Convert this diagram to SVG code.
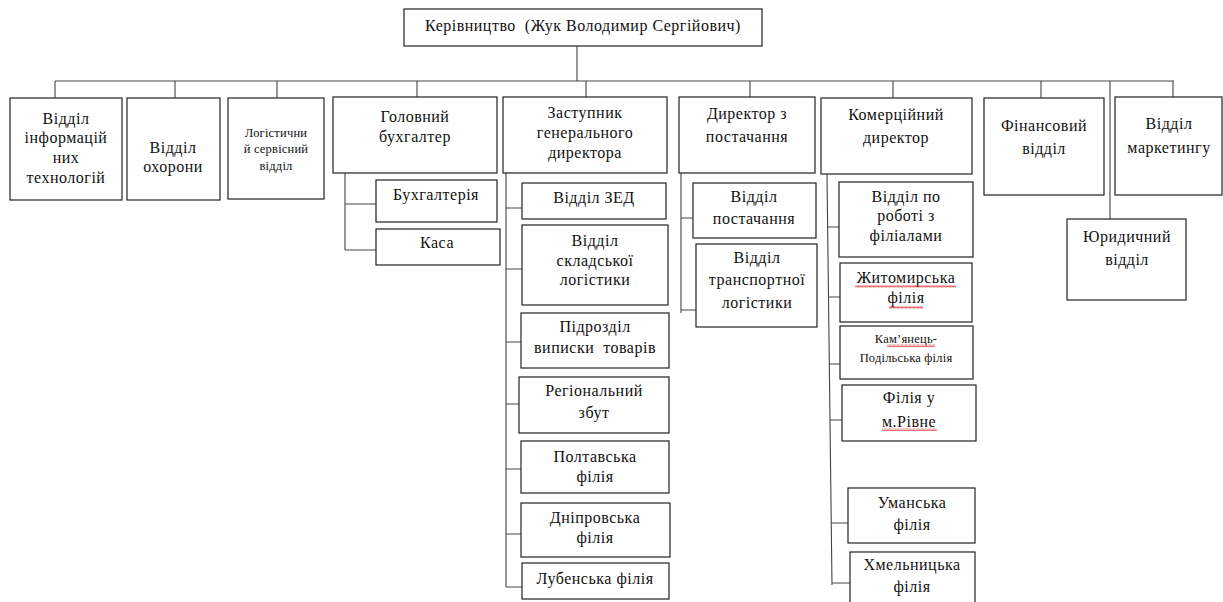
<svg xmlns="http://www.w3.org/2000/svg" width="1223" height="602" viewBox="0 0 1223 602">
<style>
.b{fill:#fff;stroke:#222;stroke-width:1.2}
.c{fill:none;stroke:#444;stroke-width:1.1}
text{font-family:"Liberation Serif","Times New Roman",serif;font-size:16px;letter-spacing:0.5px;fill:#111;text-anchor:middle}
.s{font-size:12.5px;letter-spacing:0.2px}
</style>
<defs>
<pattern id="wv" width="4" height="3" patternUnits="userSpaceOnUse">
<path d="M0 2.5 L1 0.5 L2 2.5 L3 0.5 L4 2.5" fill="none" stroke="#d33" stroke-width="0.7"/>
</pattern>
</defs>
<rect width="1223" height="602" fill="#fff"/>
<g id="connectors">
<path class="c" d="M577 46V81M55 81H1174M55 81V98M175 81V98M277 81V98M417 81V97M586 81V97M750 81V97M893 81V98M1041 81V98M1173 81V97M1110 81V219"/>
<path class="c" d="M345 173V250M345 204H376M345 250H376"/>
<path class="c" d="M506 173V587M506 208H522M506 269H522M506 342H521M506 404H519M506 469H521M506 534H521M506 587H522"/>
<path class="c" d="M681 173V313M681 218H693M681 310H696"/>
<path class="c" d="M827 174L832 585M828 227H839M829 297H840M829 364H840M830 420H842M831 523H848M832 583H850"/>
</g>
<g id="n0"><rect class="b" x="404" y="9" width="358" height="37"/><text x="583" y="31" xml:space="preserve">Керівництво  (Жук Володимир Сергійович)</text></g>
<g id="n1"><rect class="b" x="10" y="98" width="112" height="102"/><text x="66" y="124">Відділ</text><text x="66" y="143">інформацій</text><text x="66" y="163">них</text><text x="66" y="183">технологій</text></g>
<g id="n2"><rect class="b" x="127" y="98" width="93" height="102"/><text x="173" y="153">Відділ</text><text x="173" y="172">охорони</text></g>
<g id="n3"><rect class="b" x="228" y="98" width="96" height="101"/><text class="s" x="276" y="137">Логістични</text><text class="s" x="276" y="153">й сервісний</text><text class="s" x="276" y="170">відділ</text></g>
<g id="n4"><rect class="b" x="333" y="97" width="164" height="76"/><text x="415" y="122">Головний</text><text x="415" y="142">бухгалтер</text></g>
<g id="n5"><rect class="b" x="503" y="97" width="164" height="76"/><text x="585" y="118">Заступник</text><text x="585" y="138">генерального</text><text x="585" y="158">директора</text></g>
<g id="n6"><rect class="b" x="679" y="97" width="136" height="76"/><text x="747" y="119">Директор з</text><text x="747" y="142">постачання</text></g>
<g id="n7"><rect class="b" x="821" y="98" width="151" height="76"/><text x="896" y="120">Комерційний</text><text x="896" y="143">директор</text></g>
<g id="n8"><rect class="b" x="984" y="98" width="120" height="97"/><text x="1044" y="131">Фінансовий</text><text x="1044" y="154">відділ</text></g>
<g id="n9"><rect class="b" x="1115" y="97" width="107" height="98"/><text x="1169" y="129">Відділ</text><text x="1169" y="153">маркетингу</text></g>
<g id="n10"><rect class="b" x="1067" y="219" width="119" height="81"/><text x="1127" y="242">Юридичний</text><text x="1127" y="265">відділ</text></g>
<g id="n11"><rect class="b" x="376" y="180" width="121" height="42"/><text x="436" y="200">Бухгалтерія</text></g>
<g id="n12"><rect class="b" x="376" y="229" width="124" height="36"/><text x="437" y="248">Каса</text></g>
<g id="n13"><rect class="b" x="522" y="183" width="144" height="36"/><text x="594" y="203">Відділ ЗЕД</text></g>
<g id="n14"><rect class="b" x="522" y="225" width="146" height="80"/><text x="595" y="246">Відділ</text><text x="595" y="266">складської</text><text x="595" y="285">логістики</text></g>
<g id="n15"><rect class="b" x="521" y="313" width="148" height="55"/><text x="595" y="332">Підрозділ</text><text x="595" y="353" xml:space="preserve">виписки  товарів</text></g>
<g id="n16"><rect class="b" x="519" y="377" width="150" height="56"/><text x="594" y="396">Регіональний</text><text x="594" y="418">збут</text></g>
<g id="n17"><rect class="b" x="521" y="441" width="148" height="52"/><text x="595" y="462">Полтавська</text><text x="595" y="482">філія</text></g>
<g id="n18"><rect class="b" x="521" y="503" width="149" height="54"/><text x="595" y="523">Дніпровська</text><text x="595" y="543">філія</text></g>
<g id="n19"><rect class="b" x="522" y="563" width="147" height="36"/><text x="595" y="584">Лубенська філія</text></g>
<g id="n20"><rect class="b" x="693" y="183" width="123" height="55"/><text x="754" y="202">Відділ</text><text x="754" y="224">постачання</text></g>
<g id="n21"><rect class="b" x="696" y="244" width="121" height="83"/><text x="757" y="263">Відділ</text><text x="757" y="285">транспортної</text><text x="757" y="308">логістики</text></g>
<g id="n22"><rect class="b" x="839" y="182" width="134" height="75"/><text x="906" y="202">Відділ по</text><text x="906" y="221">роботі з</text><text x="906" y="241">філіалами</text></g>
<g id="n23"><rect class="b" x="840" y="263" width="132" height="59"/><text x="906" y="283">Житомирська</text><text x="906" y="303">філія</text><rect x="855" y="285" width="101" height="3" fill="url(#wv)"/><rect x="889" y="306" width="34" height="3" fill="url(#wv)"/></g>
<g id="n24"><rect class="b" x="840" y="326" width="133" height="53"/><text class="s" x="906" y="343">Кам’янець-</text><text class="s" x="906" y="362">Подільська філія</text><rect x="887" y="344" width="48" height="3" fill="url(#wv)"/></g>
<g id="n25"><rect class="b" x="842" y="385" width="134" height="56"/><text x="909" y="403">Філія у</text><text x="909" y="427">м.Рівне</text><rect x="882" y="428" width="55" height="3" fill="url(#wv)"/></g>
<g id="n26"><rect class="b" x="848" y="488" width="127" height="55"/><text x="912" y="508">Уманська</text><text x="912" y="530">філія</text></g>
<g id="n27"><rect class="b" x="850" y="552" width="125" height="60"/><text x="912" y="570">Хмельницька</text><text x="912" y="592">філія</text></g>
</svg>
